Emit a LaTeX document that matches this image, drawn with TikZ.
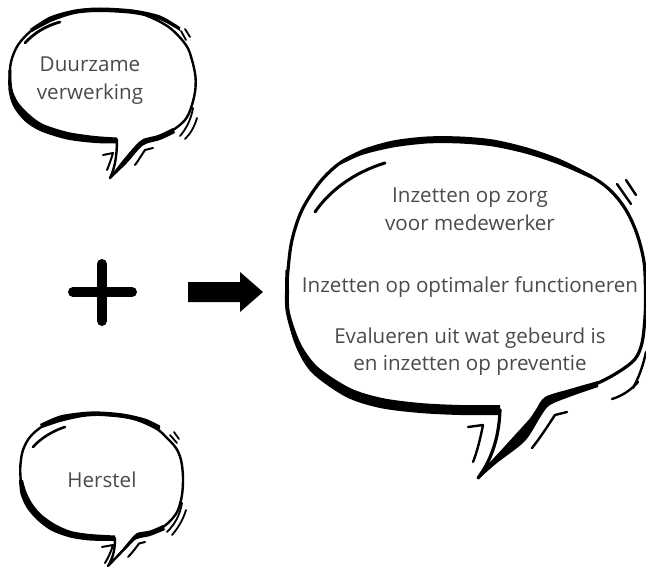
\documentclass[tikz,border=0pt]{standalone}
\usepackage{fontspec}
\setmainfont{Open Sans}
\definecolor{txt}{HTML}{4A4A4A}
\begin{document}
\begin{tikzpicture}[x=1pt,y=-1pt,
  outline/.style={line width=3.2pt,line join=round,line cap=round},
  thinout/.style={line width=2.4pt,line join=round,line cap=round},
  extra/.style={line width=2.4pt,line cap=round,line join=round},
  lbl/.style={font=\fontsize{20.6}{27}\selectfont,text=txt,inner sep=0pt,anchor=base}]
\useasboundingbox (0,0) rectangle (646,567);

% ================= main bubble =================
\draw[outline] plot[smooth,tension=0.55] coordinates {(548,401) (572,392) (598,383) (620,371) (635,359) (642,343) (645,317) (645.5,293) (644,262) (637,234) (626,210) (611,191) (592,177) (560,162) (527,151) (493,143) (460,140) (427,140) (393,144) (362,152) (340,163) (320,182) (302,210) (292,240) (288,270) (287,290) (288,313) (298,346) (315,370) (348,392) (381,403) (420,408) (460,410) (500,410)}
  .. controls (499,440) and (490,462) .. (478,478) -- cycle;
% top crescent
\fill plot[smooth] coordinates {(340,162) (362,149.5) (393,140.5) (427,136.5) (460,136.5) (493,139.5) (527,147.5) (560,159) (592,175)}
  -- plot[smooth] coordinates {(592,179) (560,165) (527,154) (493,146.5) (460,143.5) (427,143.5) (393,147.5) (362,155) (340,165)} -- cycle;
% bottom-left crescent
\fill plot[smooth] coordinates {(285.5,270) (285,290) (286,313) (296,347) (312,373) (346,397) (380,408) (420,413) (460,415) (500,415)}
  -- plot[smooth] coordinates {(500,405) (460,405) (420,403) (382,398) (350,388) (318,367) (301,344) (290,313) (289,290) (289,270)} -- cycle;
% tail right crescent
\fill plot[smooth] coordinates {(478,479.5) (497,463) (525,441) (541,416) (550,405) (572,396) (598,387)}
  -- plot[smooth] coordinates {(598,381) (570,389) (545,397) (535,411) (519,434) (493,459) (478,477)} -- cycle;
% extra strokes
\draw[extra,line width=3pt] (315,212) .. controls (330,190) and (355,172) .. (385,163);
\draw[extra] (617,184) -- (631,204);
\draw[extra] (626,180) -- (636,195);
\draw[extra] (646,352) .. controls (643,366) and (639,377) .. (633,388);
\draw[extra] (638,382) .. controls (631,390) and (622,396) .. (612,399);
\draw[extra] (468,427) -- (483,425) .. controls (480,440) and (477,452) .. (473,462);
\draw[extra] (567,412) -- (555,415) .. controls (547,427) and (540,438) .. (532,448);

\node[lbl] (t1) at (470,203) {Inzetten op zorg};
\node[lbl] (t2) at (470,230) {voor medewerker};
\node[lbl] (t3) at (470,292) {Inzetten op optimaler functioneren};
\node[lbl] (t4) at (470,343) {Evalueren uit wat gebeurd is};
\node[lbl] (t5) at (470,370) {en inzetten op preventie};

% ================= bubble 1 =================
\draw[thinout] plot[smooth,tension=0.55] coordinates {(143,141) (158,137) (173,130) (185,120) (191,108) (195,92) (195.5,77) (192,60) (186,45) (170,28) (150,17) (133,12) (100,10) (75,12) (50,19) (32,30) (18,45) (11,62) (10,80) (14,101) (24,116) (40,127) (67,135) (95,138.5) (117,139.5)}
  .. controls (117,155) and (115,168) .. (110,178) -- cycle;
\fill plot[smooth] coordinates {(30,29) (50,16.5) (75,9.5) (100,7.5) (133,9.5) (160,15.5) (180,27)}
  -- plot[smooth] coordinates {(180,31) (160,20) (133,14) (100,12) (75,14) (52,21.5) (32,32)} -- cycle;
\fill plot[smooth] coordinates {(8.5,70) (8.5,90) (13,106) (24,120.5) (40,131) (67,139.5) (95,143) (117,143.5)}
  -- plot[smooth] coordinates {(117,137.5) (95,136) (68,132) (43,124) (29,114) (18,102) (12,88) (11.5,70)} -- cycle;
\fill plot[smooth] coordinates {(110,179.5) (127,163) (140,148) (147,143.5) (160,140) (175,133)}
  -- plot[smooth] coordinates {(173,128) (158,135) (143,139) (135,146) (123,160) (110,177)} -- cycle;
\draw[extra,line width=2.8pt] (25,43) .. controls (33,34) and (45,26) .. (60,22);
\draw[extra,line width=1.8pt] (181,31) -- (186,40);
\draw[extra,line width=1.8pt] (185,29) -- (190,37);
\draw[extra,line width=1.8pt] (193,108) .. controls (191,120) and (186,129) .. (180,136);
\draw[extra,line width=1.8pt] (197,118) .. controls (194,128) and (190,134) .. (185,139);
\draw[extra,line width=2pt] (103,155) -- (113,153) .. controls (111,160) and (109,165) .. (107,170);
\draw[extra,line width=2pt] (153,148) -- (145,150) .. controls (141,156) and (138,161) .. (135,165);

\node[lbl] (d1) at (90,72) {Duurzame};
\node[lbl] (d2) at (90,100) {verwerking};

% ================= bubble 2 =================
\draw[thinout] plot[smooth,tension=0.55] coordinates {(137,536) (150,533) (163,527) (172,519) (178,510) (182,495) (183,477) (181,460) (176,448) (166,437) (157,429) (140,421) (123,416.5) (100,414.5) (83,415) (62,419) (43,426) (30,437) (23,450) (20.5,464) (20.5,477) (22.5,492) (28,504) (38,516) (52,527) (70,534) (90,537) (115,538)}
  .. controls (115,550) and (113,558) .. (108,566) -- cycle;
\fill plot[smooth] coordinates {(40,424) (60,415.5) (83,412) (100,411.5) (123,413.5) (145,418.5) (160,425.5)}
  -- plot[smooth] coordinates {(160,429.5) (145,422.5) (123,418) (100,416) (83,417) (62,421.5) (42,428)} -- cycle;
\fill plot[smooth] coordinates {(19,480) (20.5,494) (26.5,507.5) (36.5,519.5) (51,530.5) (70,537.5) (90,540.5) (115,541)}
  -- plot[smooth] coordinates {(115,535.5) (90,534) (71,531) (55,524) (41,514) (32,503) (26,491) (23,480)} -- cycle;
\fill plot[smooth] coordinates {(108,567) (122,551) (134,540) (140,538) (150,536) (165,530)}
  -- plot[smooth] coordinates {(163,525) (150,530.5) (137,533) (130,540) (119,553) (108,565)} -- cycle;
\draw[extra,line width=2.6pt] (33,447) .. controls (40,439) and (52,431) .. (65,427);
\draw[extra,line width=1.8pt] (170,435) -- (177,443);
\draw[extra,line width=1.8pt] (174,432) -- (179,439);
\draw[extra,line width=1.8pt] (182,503) .. controls (180,515) and (175,524) .. (167,532);
\draw[extra,line width=1.8pt] (186,510) .. controls (183,520) and (178,528) .. (172,535);
\draw[extra,line width=2pt] (102,547) -- (113,545) .. controls (111,552) and (108,558) .. (105,563);
\draw[extra,line width=2pt] (145,542) -- (139,543.5) .. controls (135,549) and (132,553) .. (128,557);

\node[lbl] (h1) at (102,487) {Herstel};

% ================= plus and arrow =================
\coordinate (plus) at (102,292);
\draw[line width=10pt,line cap=round] ([xshift=-29pt]plus) -- ([xshift=30pt]plus);
\draw[line width=10pt,line cap=round] ([yshift=-29pt]plus) -- ([yshift=28pt]plus);
\coordinate (arrowtail) at (188,292);
\coordinate (arrowtip) at (263,292);
\fill (arrowtail) ++(0,-10) -- ++(52,0) -- ++(0,-10) -- (arrowtip) -- ++(-23,20) -- ++(0,-10) -- ++(-52,0) -- cycle;
\end{tikzpicture}
\end{document}
